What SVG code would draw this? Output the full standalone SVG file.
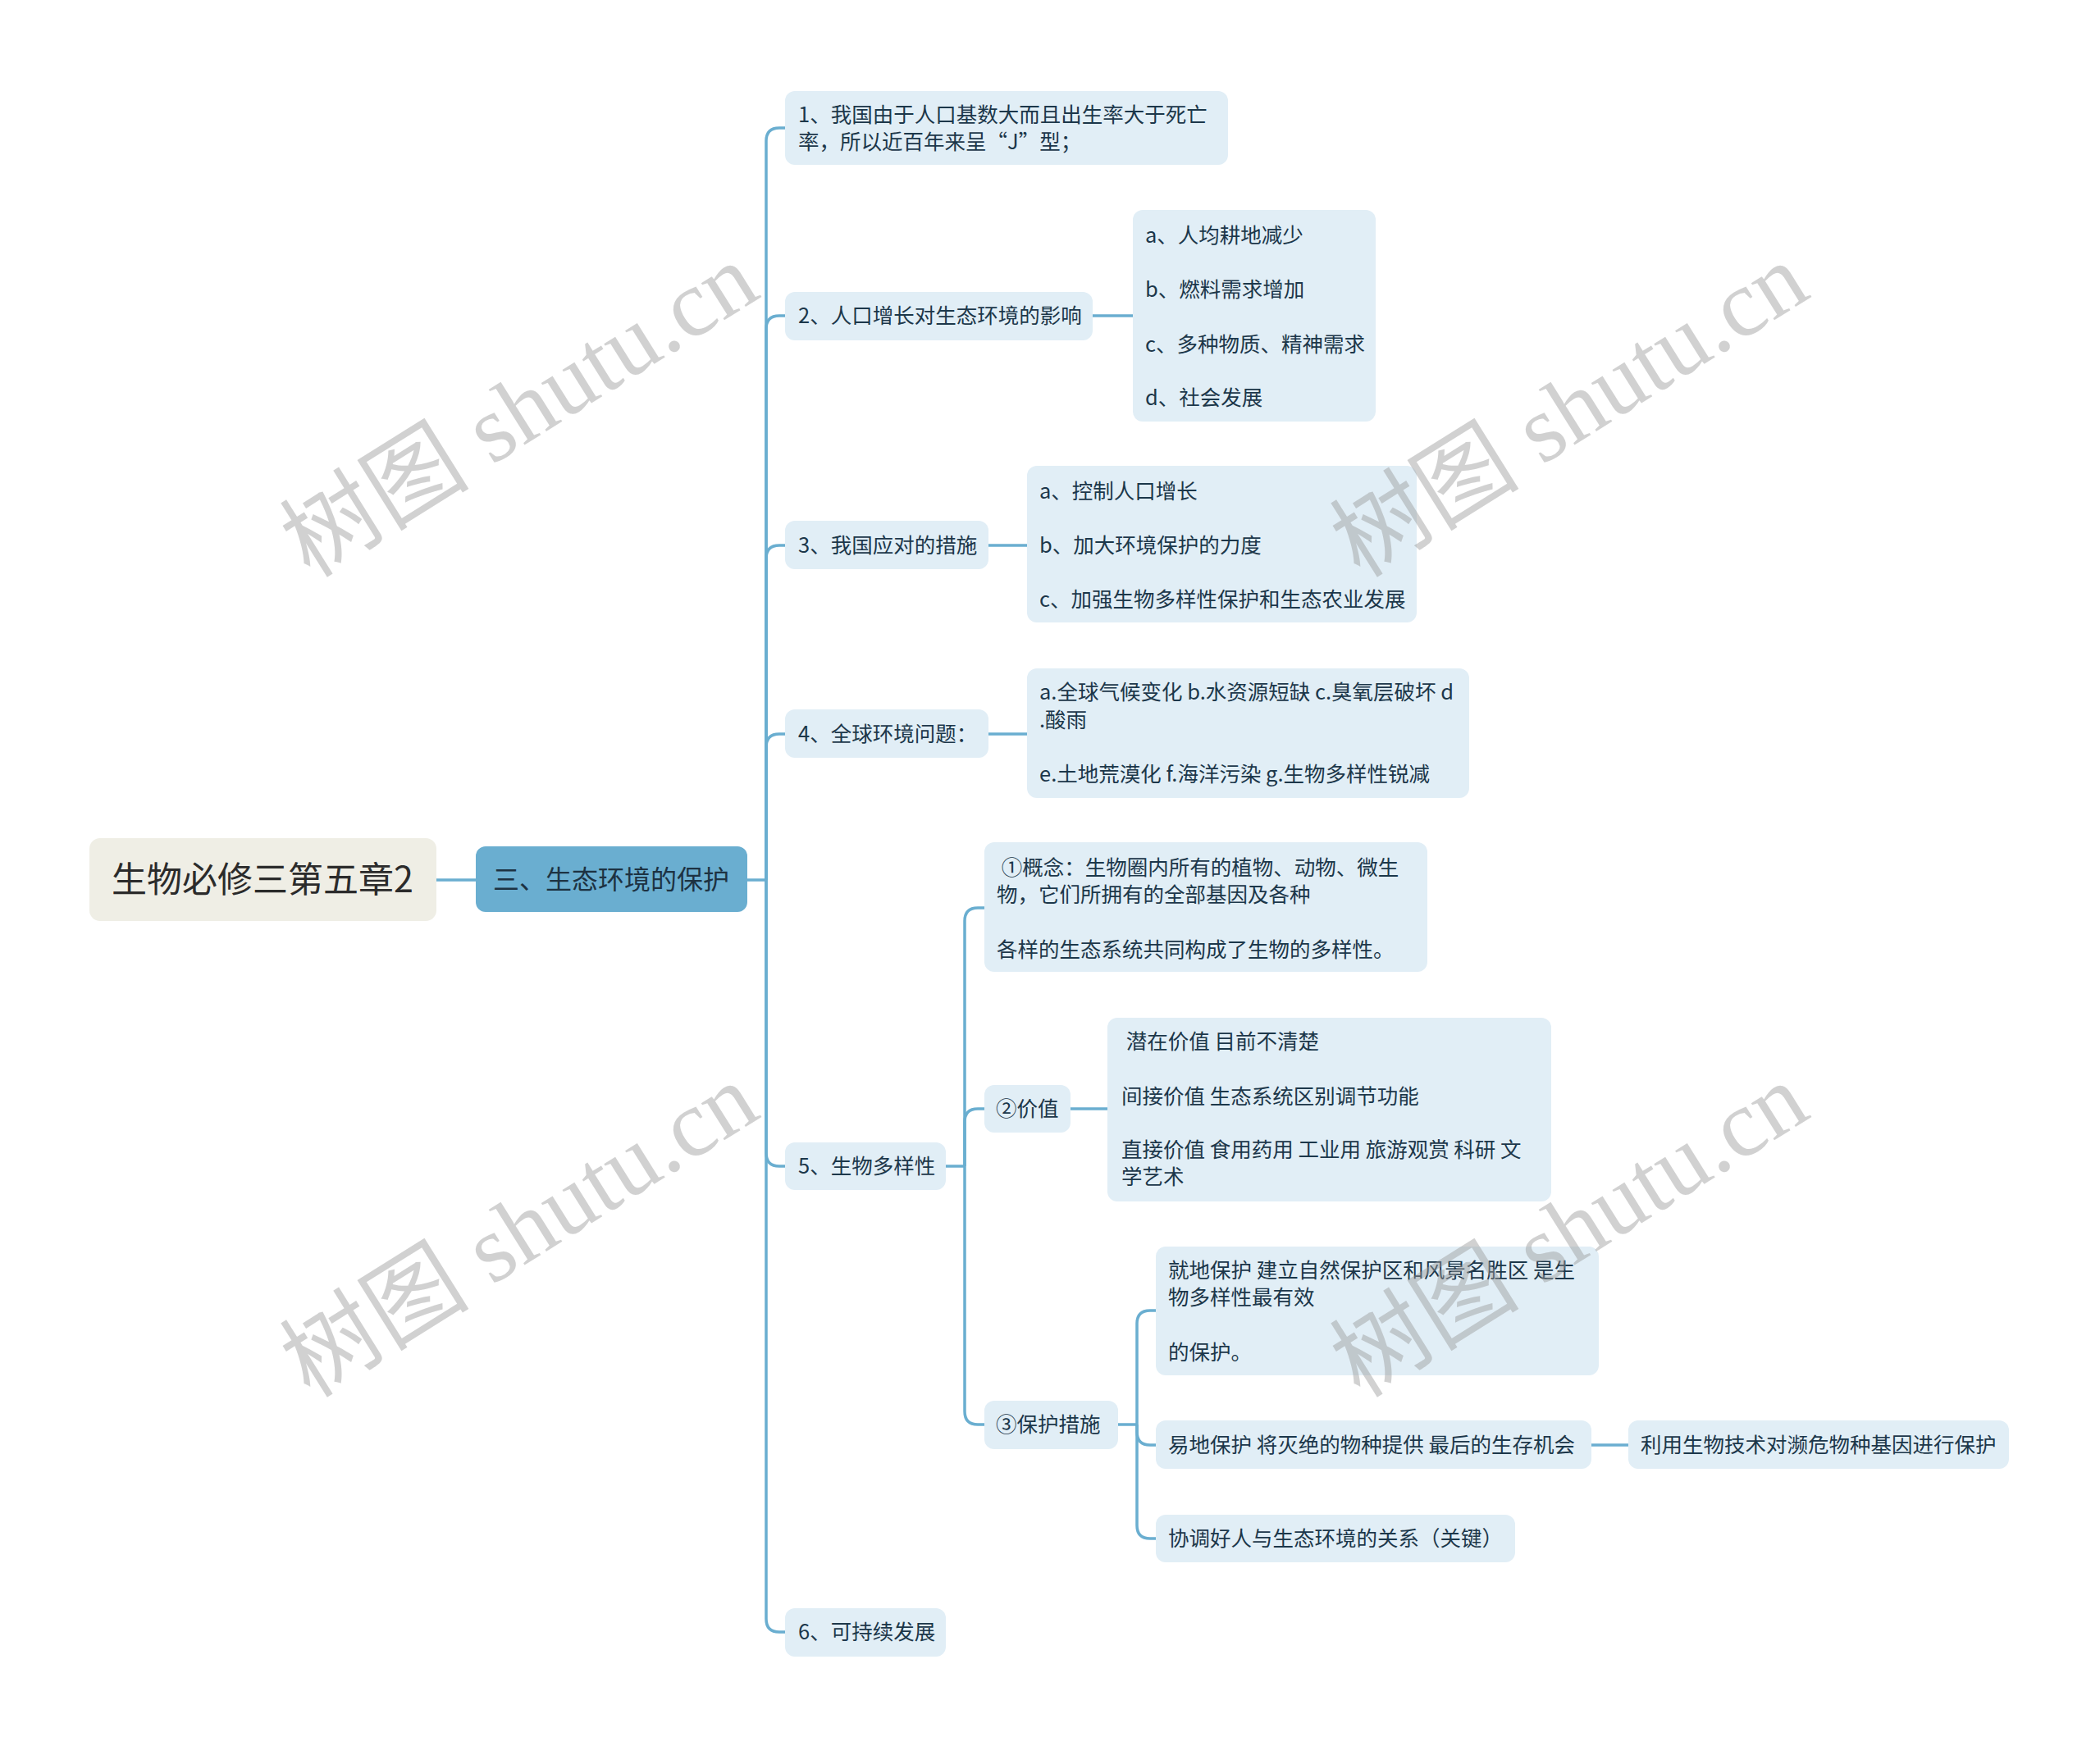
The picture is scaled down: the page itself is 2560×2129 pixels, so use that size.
<svg xmlns="http://www.w3.org/2000/svg" width="2560" height="2129" viewBox="0 0 2560 2129">
<style>
text{font-family:"Noto Sans CJK SC","Noto Sans",sans-serif;}
.box{fill:#e1eef6;}
.t{font-size:25.5px;fill:#1c374a;}
.ln{fill:none;stroke:#6aaed0;stroke-width:3.5;}
.wm{font-family:"Liberation Serif","Noto Sans CJK SC",serif;font-size:116px;fill:#9a9a9a;fill-opacity:0.45;}
</style>
<rect width="2560" height="2129" fill="#ffffff"/>
<g id="connectors">
<path class="ln" d="M532 1073 H580"/>
<path class="ln" d="M911 1073 H934"/>
<path class="ln" d="M934 1073 V172 Q934 156 950 156 H957"/>
<path class="ln" d="M934 1073 V401 Q934 385 950 385 H957"/>
<path class="ln" d="M934 1073 V681 Q934 665 950 665 H957"/>
<path class="ln" d="M934 1073 V911 Q934 895 950 895 H957"/>
<path class="ln" d="M934 1073 V1406 Q934 1422 950 1422 H957"/>
<path class="ln" d="M934 1073 V1974 Q934 1990 950 1990 H957"/>
<path class="ln" d="M1332 385 H1381"/>
<path class="ln" d="M1205 665 H1252"/>
<path class="ln" d="M1205 895 H1252"/>
<path class="ln" d="M1153 1422 H1176"/>
<path class="ln" d="M1176 1422 V1123 Q1176 1107 1192 1107 H1200"/>
<path class="ln" d="M1176 1422 V1368 Q1176 1352 1192 1352 H1200"/>
<path class="ln" d="M1176 1422 V1721 Q1176 1737 1192 1737 H1200"/>
<path class="ln" d="M1305 1352 H1350"/>
<path class="ln" d="M1363 1737 H1386"/>
<path class="ln" d="M1386 1737 V1614 Q1386 1598 1402 1598 H1409"/>
<path class="ln" d="M1386 1737 V1746 Q1386 1762 1402 1762 H1409"/>
<path class="ln" d="M1386 1737 V1860 Q1386 1876 1402 1876 H1409"/>
<path class="ln" d="M1940 1762 H1985"/>
</g>
<g id="root">
<rect x="109" y="1022" width="423" height="101" rx="13" fill="#efeee5"/>
<text x="320" y="1088" font-size="43" fill="#2b2b2b" text-anchor="middle">生物必修三第五章2</text>
</g>
<g id="main">
<rect x="580" y="1032" width="331" height="80" rx="12" fill="#6aaed0"/>
<text x="745" y="1084" font-size="32" fill="#1d3242" text-anchor="middle">三、生态环境的保护</text>
</g>
<g id="n1">
<rect class="box" x="957" y="111" width="540" height="90" rx="12"/>
<text class="t" x="973" y="149">1、我国由于人口基数大而且出生率大于死亡</text>
<text class="t" x="973" y="182">率，所以近百年来呈“J”型；</text>
</g>
<g id="n2">
<rect class="box" x="957" y="356" width="375" height="59" rx="12"/>
<text class="t" x="973" y="394">2、人口增长对生态环境的影响</text>
</g>
<g id="n2c">
<rect class="box" x="1381" y="256" width="296" height="258" rx="12"/>
<text class="t" x="1396" y="296">a、人均耕地减少</text>
<text class="t" x="1396" y="362">b、燃料需求增加</text>
<text class="t" x="1396" y="429">c、多种物质、精神需求</text>
<text class="t" x="1396" y="494">d、社会发展</text>
</g>
<g id="n3">
<rect class="box" x="957" y="635" width="248" height="59" rx="12"/>
<text class="t" x="973" y="674">3、我国应对的措施</text>
</g>
<g id="n3c">
<rect class="box" x="1252" y="568" width="475" height="191" rx="12"/>
<text class="t" x="1267" y="608">a、控制人口增长</text>
<text class="t" x="1267" y="674">b、加大环境保护的力度</text>
<text class="t" x="1267" y="740">c、加强生物多样性保护和生态农业发展</text>
</g>
<g id="n4">
<rect class="box" x="957" y="865" width="248" height="59" rx="12"/>
<text class="t" x="973" y="904">4、全球环境问题：</text>
</g>
<g id="n4c">
<rect class="box" x="1252" y="815" width="539" height="158" rx="12"/>
<text class="t" x="1267" y="853">a.全球气候变化 b.水资源短缺 c.臭氧层破坏 d</text>
<text class="t" x="1267" y="887">.酸雨</text>
<text class="t" x="1267" y="953">e.土地荒漠化 f.海洋污染 g.生物多样性锐减</text>
</g>
<g id="n5">
<rect class="box" x="957" y="1393" width="196" height="58" rx="12"/>
<text class="t" x="973" y="1431">5、生物多样性</text>
</g>
<g id="n5a">
<rect class="box" x="1200" y="1027" width="540" height="158" rx="12"/>
<text class="t" x="1215" y="1067" xml:space="preserve"> ①概念：生物圈内所有的植物、动物、微生</text>
<text class="t" x="1215" y="1100">物，它们所拥有的全部基因及各种</text>
<text class="t" x="1215" y="1167">各样的生态系统共同构成了生物的多样性。</text>
</g>
<g id="n5b">
<rect class="box" x="1200" y="1323" width="105" height="58" rx="12"/>
<text class="t" x="1214" y="1361">②价值</text>
</g>
<g id="n5bc">
<rect class="box" x="1350" y="1241" width="541" height="224" rx="12"/>
<text class="t" x="1367" y="1279" xml:space="preserve"> 潜在价值 目前不清楚</text>
<text class="t" x="1367" y="1346">间接价值 生态系统区别调节功能</text>
<text class="t" x="1367" y="1411">直接价值 食用药用 工业用 旅游观赏 科研 文</text>
<text class="t" x="1367" y="1444">学艺术</text>
</g>
<g id="n5c">
<rect class="box" x="1200" y="1708" width="163" height="59" rx="12"/>
<text class="t" x="1214" y="1746">③保护措施</text>
</g>
<g id="n5c1">
<rect class="box" x="1409" y="1520" width="540" height="157" rx="12"/>
<text class="t" x="1424" y="1558">就地保护 建立自然保护区和风景名胜区 是生</text>
<text class="t" x="1424" y="1591">物多样性最有效</text>
<text class="t" x="1424" y="1658">的保护。</text>
</g>
<g id="n5c2">
<rect class="box" x="1409" y="1732" width="531" height="59" rx="12"/>
<text class="t" x="1424" y="1771">易地保护 将灭绝的物种提供 最后的生存机会</text>
</g>
<g id="n5c2a">
<rect class="box" x="1985" y="1732" width="464" height="59" rx="12"/>
<text class="t" x="2000" y="1771">利用生物技术对濒危物种基因进行保护</text>
</g>
<g id="n5c3">
<rect class="box" x="1409" y="1847" width="438" height="58" rx="12"/>
<text class="t" x="1424" y="1885">协调好人与生态环境的关系（关键）</text>
</g>
<g id="n6">
<rect class="box" x="957" y="1961" width="196" height="59" rx="12"/>
<text class="t" x="973" y="1999">6、可持续发展</text>
</g>
<g id="watermarks">
<text class="wm" transform="translate(378 706) rotate(-32)">树图 shutu.cn</text>
<text class="wm" transform="translate(1658 706) rotate(-32)">树图 shutu.cn</text>
<text class="wm" transform="translate(378 1706) rotate(-32)">树图 shutu.cn</text>
<text class="wm" transform="translate(1658 1706) rotate(-32)">树图 shutu.cn</text>
</g>
</svg>
